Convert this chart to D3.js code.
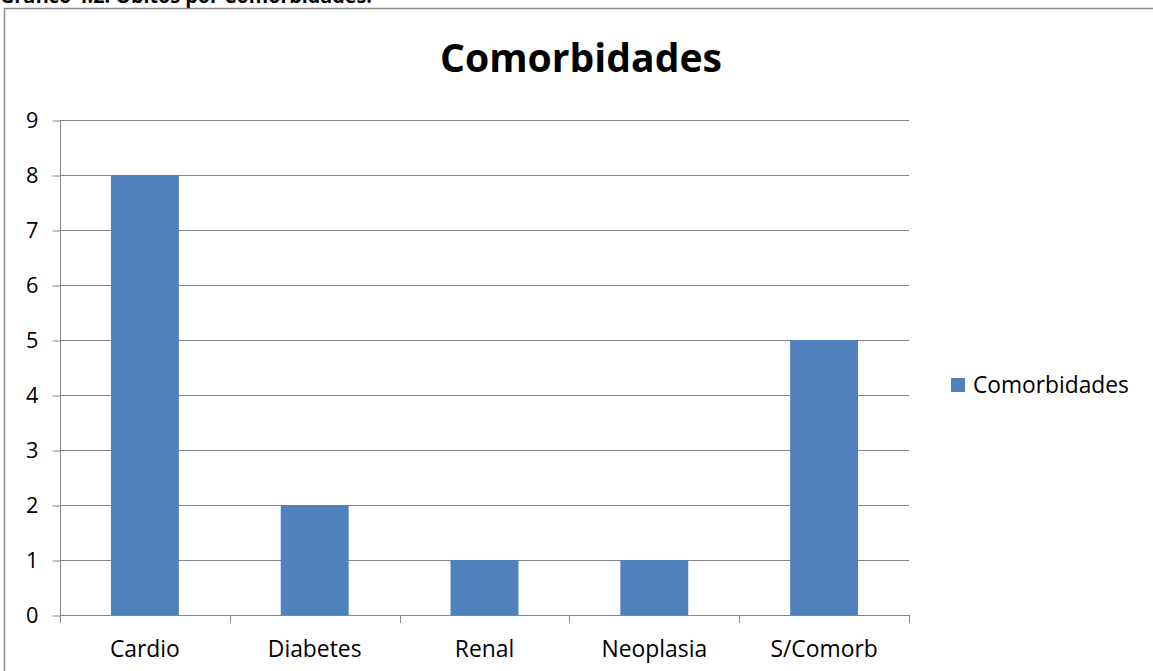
<!DOCTYPE html>
<html><head><meta charset="utf-8">
<script src="https://cdn.jsdelivr.net/npm/d3@7"></script>
<style>body{margin:0;background:#fff;} text{font-family:"Open Sans",Lato,sans-serif;}</style>
</head><body>
<svg id="c" width="1153" height="671"></svg>
<script>
const categories = ["Cardio","Diabetes","Renal","Neoplasia","S/Comorb"];
const values = [8,2,1,1,5];
const yTicks = [0,1,2,3,4,5,6,7,8,9];
const seriesName = "Comorbidades";
const chartTitle = "Comorbidades";
const caption = "Gráfico 4.2. Óbitos por Comorbidades.";

const svg = d3.select("#c");
const fit = (sel, w) => { const n = sel.node(); const l = n.getComputedTextLength(); const fs = parseFloat(sel.attr("font-size")); sel.attr("font-size", fs*w/l); };

// caption (cut off at top)
const cap = svg.append("text").attr("x",0).attr("y",2.5).attr("font-size",19).attr("font-weight","bold")
  .attr("font-family","Lato,sans-serif").attr("fill","#000").text(caption);
fit(cap, 372);

// frame
svg.append("rect").attr("x",4.5).attr("y",8.5).attr("width",1170).attr("height",700)
  .attr("fill","#fff").attr("stroke","#8c8c8c").attr("stroke-width",1.5);

const x = d3.scaleBand().domain(categories).range([60,909]).paddingInner(0.6).paddingOuter(0.3);
const y = d3.scaleLinear().domain([0,9]).range([615,120]);

// gridlines
svg.append("g").selectAll("line").data(yTicks.filter(d=>d>0)).join("line")
  .attr("x1",60).attr("x2",909).attr("y1",d=>y(d)+0.5).attr("y2",d=>y(d)+0.5)
  .attr("stroke","#868686").attr("stroke-width",1);

// bars
svg.append("g").selectAll("rect").data(values).join("rect")
  .attr("x",(d,i)=>x(categories[i])).attr("width",x.bandwidth())
  .attr("y",d=>y(d)).attr("height",d=>y(0)-y(d)).attr("fill","#4F81BD");

// x axis labels first to determine common label size
const xa = svg.append("g");
const xl = xa.selectAll("text").data(categories).join("text")
  .attr("x",d=>x(d)+x.bandwidth()/2).attr("y",657).attr("text-anchor","middle")
  .attr("font-size",20).attr("fill","#000").text(d=>d);
const cl = xl.filter((d,i)=>i===0).node().getComputedTextLength();
const labelSize = 20*70/cl;
xl.attr("font-size", labelSize);

// y axis
const ya = svg.append("g").attr("transform","translate(60.5,0.5)")
  .call(d3.axisLeft(y).tickValues(yTicks).tickSize(8).tickPadding(14).tickFormat(d3.format("d")));
ya.select(".domain").attr("stroke","#868686").attr("d","M0,"+y(9)+"V"+y(0));
ya.selectAll(".tick line").attr("stroke","#868686");
ya.selectAll(".tick text").attr("font-size",labelSize*0.95).attr("fill","#000").attr("font-family","'Open Sans',sans-serif");

// x axis line and ticks
const bounds = categories.map(c=>x(c)-x.step()*x.paddingOuter()).concat([909]);
xa.append("line").attr("x1",60).attr("x2",909).attr("y1",y(0)+0.5).attr("y2",y(0)+0.5).attr("stroke","#868686");
xa.selectAll("line.t").data(bounds).join("line").attr("class","t")
  .attr("x1",d=>Math.round(d)+0.5).attr("x2",d=>Math.round(d)+0.5).attr("y1",y(0)).attr("y2",y(0)+8).attr("stroke","#868686");

// title
const t = svg.append("text").attr("x",581).attr("y",72).attr("text-anchor","middle")
  .attr("font-size",38).attr("font-weight","bold").attr("fill","#000").attr("font-family","Lato,sans-serif").text(chartTitle);
fit(t, 282);

// legend
svg.append("rect").attr("x",951).attr("y",378).attr("width",14).attr("height",14).attr("fill","#4F81BD");
const lt = svg.append("text").attr("x",973).attr("y",393).attr("font-size",19).attr("fill","#000").text(seriesName);
fit(lt, 156);
</script>
</body></html>
